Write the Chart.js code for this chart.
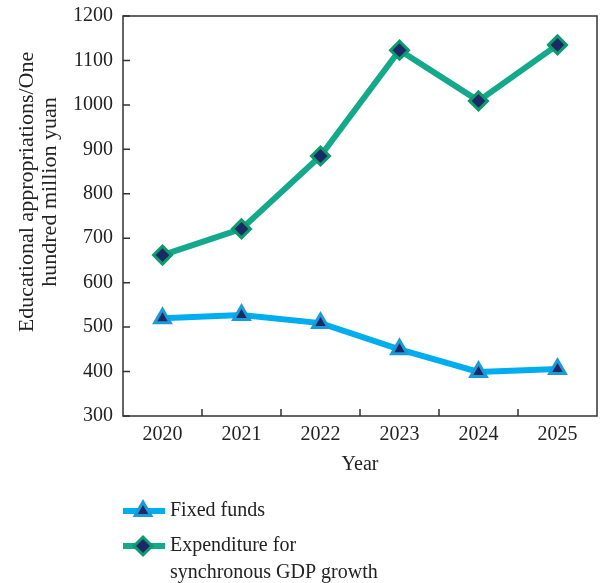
<!DOCTYPE html>
<html>
<head>
<meta charset="utf-8">
<script src="https://cdn.jsdelivr.net/npm/chart.js@4.4.1/dist/chart.umd.min.js"></script>
<style>
  html, body { margin: 0; padding: 0; background: #fff; overflow: hidden; }
  canvas { display: block; }
</style>
</head>
<body>
<canvas id="chart" width="600" height="583"></canvas>
<script>
// Data
const years = ['2020', '2021', '2022', '2023', '2024', '2025'];
const fixedFunds = [520, 527, 509, 450, 399, 406];
const gdpExpenditure = [662, 721, 885, 1123, 1009, 1135];
const yMin = 300;
const yMax = 1200;
const yStep = 100;
const yTitleLines = ['Educational appropriations/One', 'hundred million yuan'];

const SERIF = "'Liberation Serif', 'DejaVu Serif', serif";
const TEXT = '#222';
const AXIS = '#333';

const BLUE_LINE = '#00aeef';
const BLUE_EDGE = '#1a9ad8';
const GREEN_LINE = '#14a98b';
const GREEN_EDGE = '#0e9a6c';
const NAVY = '#1b2a66';

// big markers would otherwise push the plot area in from the canvas edge
if (Chart.LineController) {
    Chart.LineController.prototype.getMaxOverflow = () => 0;
}

// Frame, inside tick marks, y title and the legend below the plot
const framePlugin = {
    id: 'frame',
    afterDraw(chart) {
        const { ctx, chartArea: a, scales } = chart;
        ctx.save();
        ctx.strokeStyle = AXIS;
        ctx.lineWidth = 1.5;
        ctx.strokeRect(a.left, a.top, a.right - a.left, a.bottom - a.top);

        // x ticks between categories, pointing up
        ctx.beginPath();
        for (let i = 0; i < years.length - 1; i++) {
            const x = (scales.x.getPixelForValue(i) + scales.x.getPixelForValue(i + 1)) / 2;
            ctx.moveTo(x, a.bottom);
            ctx.lineTo(x, a.bottom - 7);
        }
        // y ticks, pointing right
        for (let v = yMin; v <= yMax; v += yStep) {
            const y = scales.y.getPixelForValue(v);
            ctx.moveTo(a.left, y);
            ctx.lineTo(a.left + 7, y);
        }
        ctx.stroke();

        // y axis title, two rotated lines
        ctx.save();
        ctx.translate(27, 192);
        ctx.rotate(-Math.PI / 2);
        ctx.fillStyle = TEXT;
        ctx.font = '22px ' + SERIF;
        ctx.textAlign = 'center';
        ctx.textBaseline = 'middle';
        yTitleLines.forEach((t, i) => ctx.fillText(t, 0, i * 23));
        ctx.restore();

        // legend
        const items = [
            { ds: chart.data.datasets[0], y: 511, lines: ['Fixed funds'] },
            { ds: chart.data.datasets[1], y: 546, lines: ['Expenditure for', 'synchronous GDP growth'] }
        ];
        items.forEach(item => {
            ctx.strokeStyle = item.ds.borderColor;
            ctx.lineWidth = item.ds.borderWidth;
            ctx.beginPath();
            ctx.moveTo(123, item.y);
            ctx.lineTo(165, item.y);
            ctx.stroke();

            ctx.fillStyle = item.ds.pointBackgroundColor;
            ctx.strokeStyle = item.ds.pointBorderColor;
            ctx.lineWidth = item.ds.pointBorderWidth;
            Chart.helpers.drawPoint(ctx, {
                pointStyle: item.ds.pointStyle,
                radius: item.ds.pointRadius,
                borderWidth: item.ds.pointBorderWidth,
                rotation: 0
            }, 143, item.y);

            ctx.fillStyle = TEXT;
            ctx.font = '20px ' + SERIF;
            ctx.textBaseline = 'middle';
            ctx.textAlign = 'left';
            item.lines.forEach((t, i) => ctx.fillText(t, 170, item.y + i * 27));
        });
        ctx.restore();
    }
};

new Chart(document.getElementById('chart'), {
    type: 'line',
    data: {
        labels: years,
        datasets: [
            {
                label: 'Fixed funds',
                data: fixedFunds,
                borderColor: BLUE_LINE,
                borderWidth: 6,
                pointStyle: 'triangle',
                pointRadius: 9,
                pointBorderWidth: 3,
                pointBackgroundColor: NAVY,
                pointBorderColor: BLUE_EDGE,
                tension: 0
            },
            {
                label: 'Expenditure for synchronous GDP growth',
                data: gdpExpenditure,
                borderColor: GREEN_LINE,
                borderWidth: 6,
                pointStyle: 'rectRot',
                pointRadius: 9,
                pointBorderWidth: 3,
                pointBackgroundColor: NAVY,
                pointBorderColor: GREEN_EDGE,
                tension: 0
            }
        ]
    },
    options: {
        responsive: false,
        animation: false,
        events: [],
        layout: { padding: { top: 16, right: 3, left: 0, bottom: 0 } },
        plugins: {
            legend: { display: false },
            tooltip: { enabled: false }
        },
        scales: {
            x: {
                offset: true,
                grid: { display: false, drawTicks: false },
                border: { display: false },
                ticks: {
                    color: TEXT,
                    padding: 7,
                    maxRotation: 0,
                    font: { family: SERIF, size: 20 }
                },
                title: {
                    display: true,
                    text: 'Year',
                    color: TEXT,
                    padding: { top: 4, bottom: 106 },
                    font: { family: SERIF, size: 20 }
                },
                afterFit: (scale) => {
                    scale.height = 167;
                    scale.paddingLeft = 0;
                    scale.paddingRight = 0;
                }
            },
            y: {
                min: yMin,
                max: yMax,
                grid: { display: false, drawTicks: false },
                border: { display: false },
                ticks: {
                    stepSize: yStep,
                    color: TEXT,
                    padding: 10,
                    font: { family: SERIF, size: 20 },
                    callback: (v) => String(v)
                },
                afterFit: (scale) => {
                    scale.width = 123;
                    scale.paddingTop = 0;
                    scale.paddingBottom = 0;
                }
            }
        }
    },
    plugins: [framePlugin]
});
</script>
</body>
</html>
